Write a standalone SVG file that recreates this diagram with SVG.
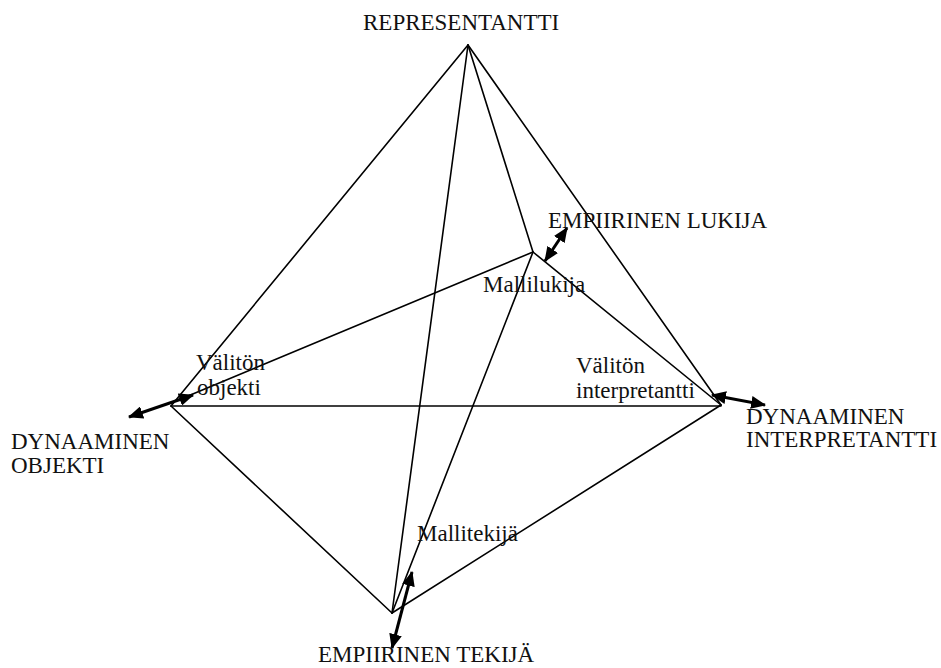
<svg xmlns="http://www.w3.org/2000/svg" width="941" height="668" viewBox="0 0 941 668">
  <style>
    .edge { stroke: #000; stroke-width: 1.6; fill: none; stroke-linecap: round; }
    .arrow { stroke: #000; stroke-width: 3; fill: none; marker-start: url(#head); marker-end: url(#head); }
    .lbl { font-family: "Liberation Serif", "Times New Roman", serif; font-size: 23px; fill: #111; }
  </style>
  <defs>
    <marker id="head" viewBox="0 0 14 12" refX="13" refY="6" markerWidth="15" markerHeight="13" markerUnits="userSpaceOnUse" orient="auto-start-reverse">
      <path d="M0,0 L14,6 L0,12 Z" fill="#000"/>
    </marker>
  </defs>
  <rect width="941" height="668" fill="#fff"/>

  <!-- pyramid edges -->
  <g id="connectors">
    <line class="edge" x1="468" y1="45" x2="171" y2="406"/>
    <line class="edge" x1="468" y1="45" x2="721" y2="405"/>
    <line class="edge" x1="468" y1="45" x2="392" y2="613"/>
    <line class="edge" x1="468" y1="45" x2="533" y2="252"/>
    <line class="edge" x1="533" y1="252" x2="176" y2="401"/>
    <line class="edge" x1="533" y1="252" x2="721" y2="405"/>
    <line class="edge" x1="533" y1="252" x2="392" y2="613"/>
    <line class="edge" x1="171" y1="406" x2="721" y2="406"/>
    <line class="edge" x1="171" y1="406" x2="392" y2="613"/>
    <line class="edge" x1="721" y1="405" x2="392" y2="613"/>

    <!-- double-headed links to the empirical / dynamic poles -->
    <line class="arrow" x1="545" y1="261" x2="567" y2="228"/>
    <line class="arrow" x1="129" y1="417" x2="193" y2="395"/>
    <line class="arrow" x1="712" y1="395" x2="765" y2="405"/>
    <line class="arrow" x1="392" y1="648" x2="412" y2="572"/>
  </g>

  <g id="representantti">
    <text class="lbl" x="363" y="30">REPRESENTANTTI</text>
  </g>
  <g id="empiirinen-lukija">
    <text class="lbl" x="548" y="228">EMPIIRINEN LUKIJA</text>
  </g>
  <g id="mallilukija">
    <text class="lbl" x="483" y="292">Mallilukija</text>
  </g>
  <g id="valiton-objekti">
    <text class="lbl" x="196" y="370">Välitön</text>
    <text class="lbl" x="197" y="395">objekti</text>
  </g>
  <g id="dynaaminen-objekti">
    <text class="lbl" x="11" y="449">DYNAAMINEN</text>
    <text class="lbl" x="11" y="473">OBJEKTI</text>
  </g>
  <g id="valiton-interpretantti">
    <text class="lbl" x="576" y="373">Välitön</text>
    <text class="lbl" x="576" y="398">interpretantti</text>
  </g>
  <g id="dynaaminen-interpretantti">
    <text class="lbl" x="746" y="424">DYNAAMINEN</text>
    <text class="lbl" x="746" y="447">INTERPRETANTTI</text>
  </g>
  <g id="mallitekija">
    <text class="lbl" x="417" y="541">Mallitekijä</text>
  </g>
  <g id="empiirinen-tekija">
    <text class="lbl" x="318" y="662">EMPIIRINEN TEKIJÄ</text>
  </g>
</svg>
